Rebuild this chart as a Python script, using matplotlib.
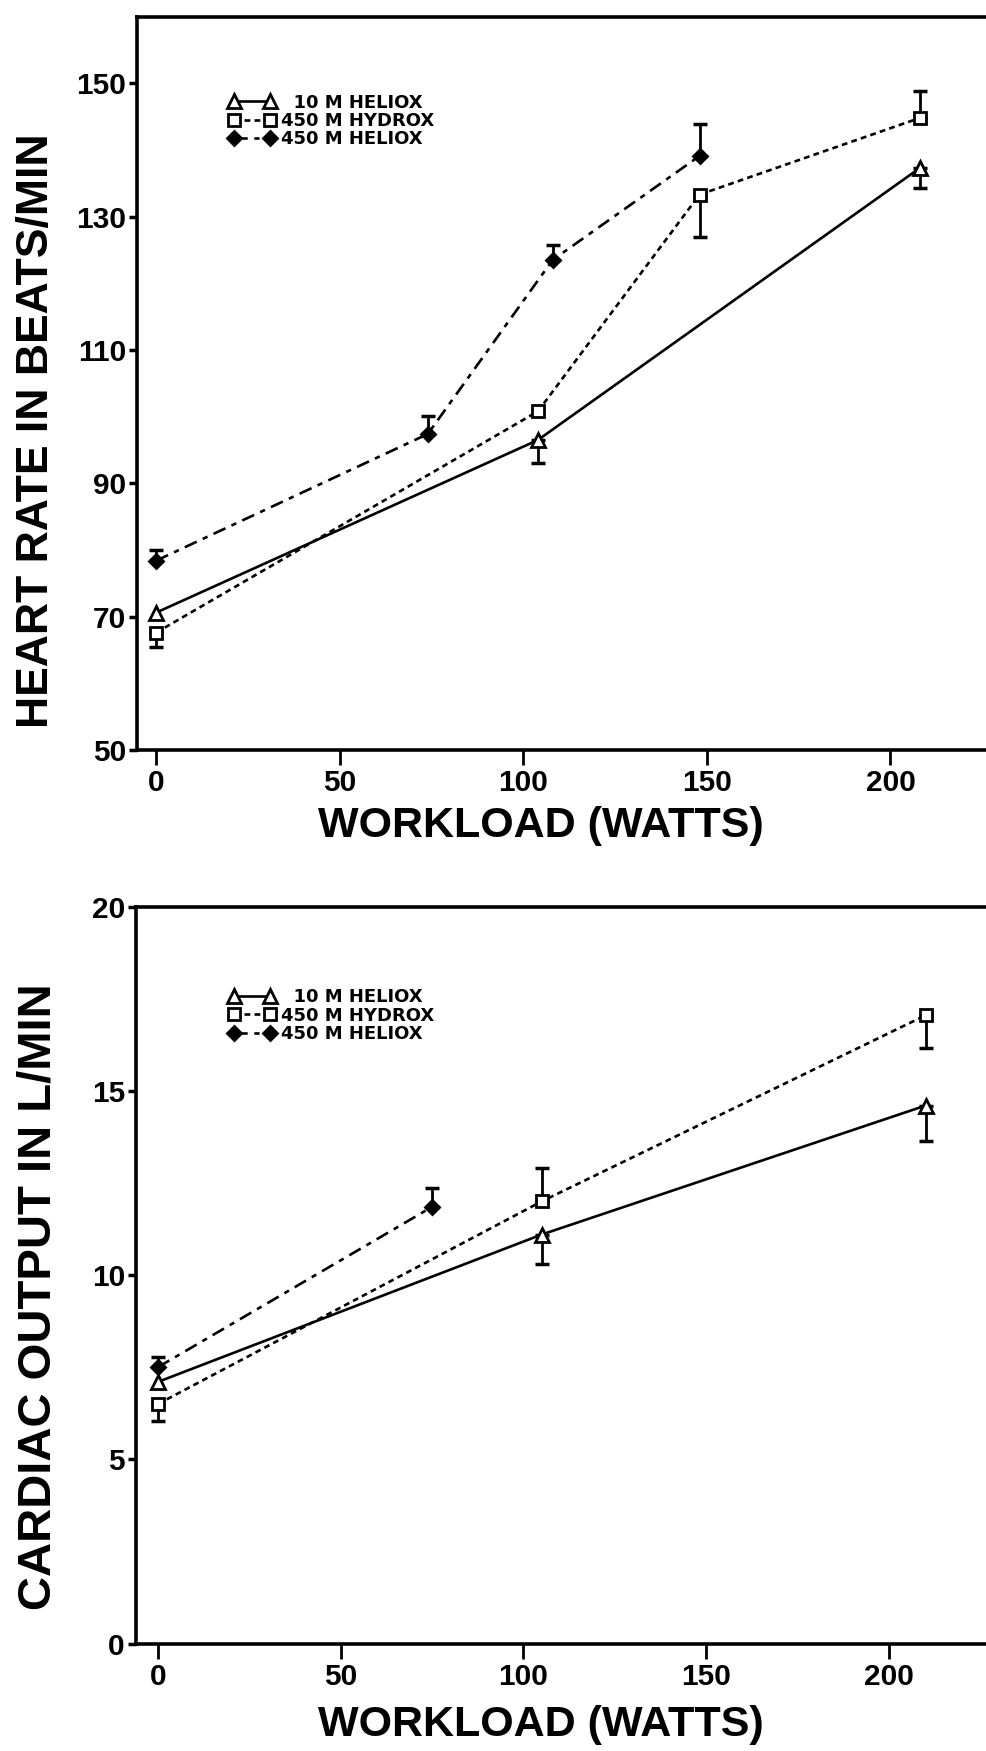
import matplotlib.pyplot as plt

plt.rcParams["font.family"] = ["Liberation Sans", "DejaVu Sans"]

# heart rate (beats/min) vs workload (watts)
hr_heliox10_w = [0, 104, 208]
hr_heliox10 = [70.6, 96.5, 137.3]
hr_heliox10_lo = [0, 3.5, 3.0]
hr_heliox10_hi = [0, 0, 0]

hr_hydrox_w = [0, 104, 148, 208]
hr_hydrox = [67.6, 100.8, 133.3, 144.8]
hr_hydrox_lo = [2.2, 0, 6.3, 0]
hr_hydrox_hi = [0, 0, 0, 4.1]

hr_heliox450_w = [0, 74, 108, 148]
hr_heliox450 = [78.4, 97.4, 123.5, 139.1]
hr_heliox450_lo = [0, 0, 0, 0]
hr_heliox450_hi = [1.6, 2.7, 2.2, 4.8]

# cardiac output (L/min) vs workload (watts)
co_heliox10_w = [0, 105, 210]
co_heliox10 = [7.1, 11.1, 14.6]
co_heliox10_lo = [0, 0.8, 0.95]
co_heliox10_hi = [0, 0, 0]

co_hydrox_w = [0, 105, 210]
co_hydrox = [6.5, 12.0, 17.05]
co_hydrox_lo = [0.45, 0, 0.9]
co_hydrox_hi = [0, 0.9, 0]

co_heliox450_w = [0, 75]
co_heliox450 = [7.5, 11.85]
co_heliox450_lo = [0, 0]
co_heliox450_hi = [0.27, 0.5]

labels = ["  10 M HELIOX", "450 M HYDROX", "450 M HELIOX"]
x_ticks = [0, 50, 100, 150, 200]

styles = [
    dict(linestyle="-", marker="^", markersize=10, markerfacecolor="white"),
    dict(linestyle=(0, (2.2, 1.6)), marker="s", markersize=8.5, markerfacecolor="white"),
    dict(linestyle=(0, (5, 2.5, 2, 2.5)), marker="D", markersize=7, markerfacecolor="black"),
]


def draw_series(ax, w, vals, lo, hi, style, label):
    line, = ax.plot(w, vals, color="black", lw=1.9, markeredgecolor="black",
                    markeredgewidth=2, label=label, zorder=3, **style)
    for xi, yi, l, h in zip(w, vals, lo, hi):
        if l == 0 and h == 0:
            continue
        ax.errorbar([xi], [yi], yerr=[[l], [h]], fmt="none", ecolor="black",
                    elinewidth=2, capsize=5, capthick=2.5, zorder=2)
    return line


def style_axes(ax, ylim, yticks):
    ax.set_ylim(*ylim)
    ax.set_yticks(yticks)
    ax.set_xticks(x_ticks)
    for s in ["top", "left", "bottom"]:
        ax.spines[s].set_linewidth(2.6)
    ax.spines["right"].set_visible(False)
    ax.tick_params(axis="x", length=11, width=2, pad=3, labelsize=21.5)
    ax.tick_params(axis="y", length=6, width=2.5, pad=2, labelsize=21.5)
    for t in ax.get_xticklabels() + ax.get_yticklabels():
        t.set_fontweight("bold")


def add_legend(ax, handles, anchor):
    ax.legend(handles=handles, loc="upper left", bbox_to_anchor=anchor, frameon=False,
              numpoints=2, handlelength=2.6, handletextpad=0.3, labelspacing=0.02,
              borderpad=0, borderaxespad=0,
              prop=dict(family="DejaVu Sans", weight="bold", size=13))


fig = plt.figure(figsize=(9.87, 17.51), dpi=100)

# heart rate panel
ax1 = fig.add_axes([137 / 987, 1 - 750 / 1751, 882 / 987, 733.4 / 1751])
ax1.set_xlim(-5.2, 235)
h1 = [
    draw_series(ax1, hr_heliox10_w, hr_heliox10, hr_heliox10_lo, hr_heliox10_hi, styles[0], labels[0]),
    draw_series(ax1, hr_hydrox_w, hr_hydrox, hr_hydrox_lo, hr_hydrox_hi, styles[1], labels[1]),
    draw_series(ax1, hr_heliox450_w, hr_heliox450, hr_heliox450_lo, hr_heliox450_hi, styles[2], labels[2]),
]
style_axes(ax1, (50, 160), [50, 70, 90, 110, 130, 150])
add_legend(ax1, h1, (0.104, 0.895))

# cardiac output panel
ax2 = fig.add_axes([136 / 987, 1 - 1643.5 / 1751, 881 / 987, 736.9 / 1751])
ax2.set_xlim(-6, 235)
h2 = [
    draw_series(ax2, co_heliox10_w, co_heliox10, co_heliox10_lo, co_heliox10_hi, styles[0], labels[0]),
    draw_series(ax2, co_hydrox_w, co_hydrox, co_hydrox_lo, co_hydrox_hi, styles[1], labels[1]),
    draw_series(ax2, co_heliox450_w, co_heliox450, co_heliox450_lo, co_heliox450_hi, styles[2], labels[2]),
]
style_axes(ax2, (0, 20), [0, 5, 10, 15, 20])
add_legend(ax2, h2, (0.105, 0.889))

fig.text(37 / 987, 1 - 431 / 1751, "HEART RATE IN BEATS/MIN", rotation=90,
         ha="center", va="center", fontsize=32, fontweight="bold")
fig.text(39 / 987, 1 - 1297 / 1751, "CARDIAC OUTPUT IN L/MIN", rotation=90,
         ha="center", va="center", fontsize=34, fontweight="bold")
fig.text(541 / 987, 1 - 826 / 1751, "WORKLOAD (WATTS)",
         ha="center", va="center", fontsize=31, fontweight="bold")
fig.text(541 / 987, 1 - 1725 / 1751, "WORKLOAD (WATTS)",
         ha="center", va="center", fontsize=31, fontweight="bold")

fig.savefig("out.png", dpi=100)
